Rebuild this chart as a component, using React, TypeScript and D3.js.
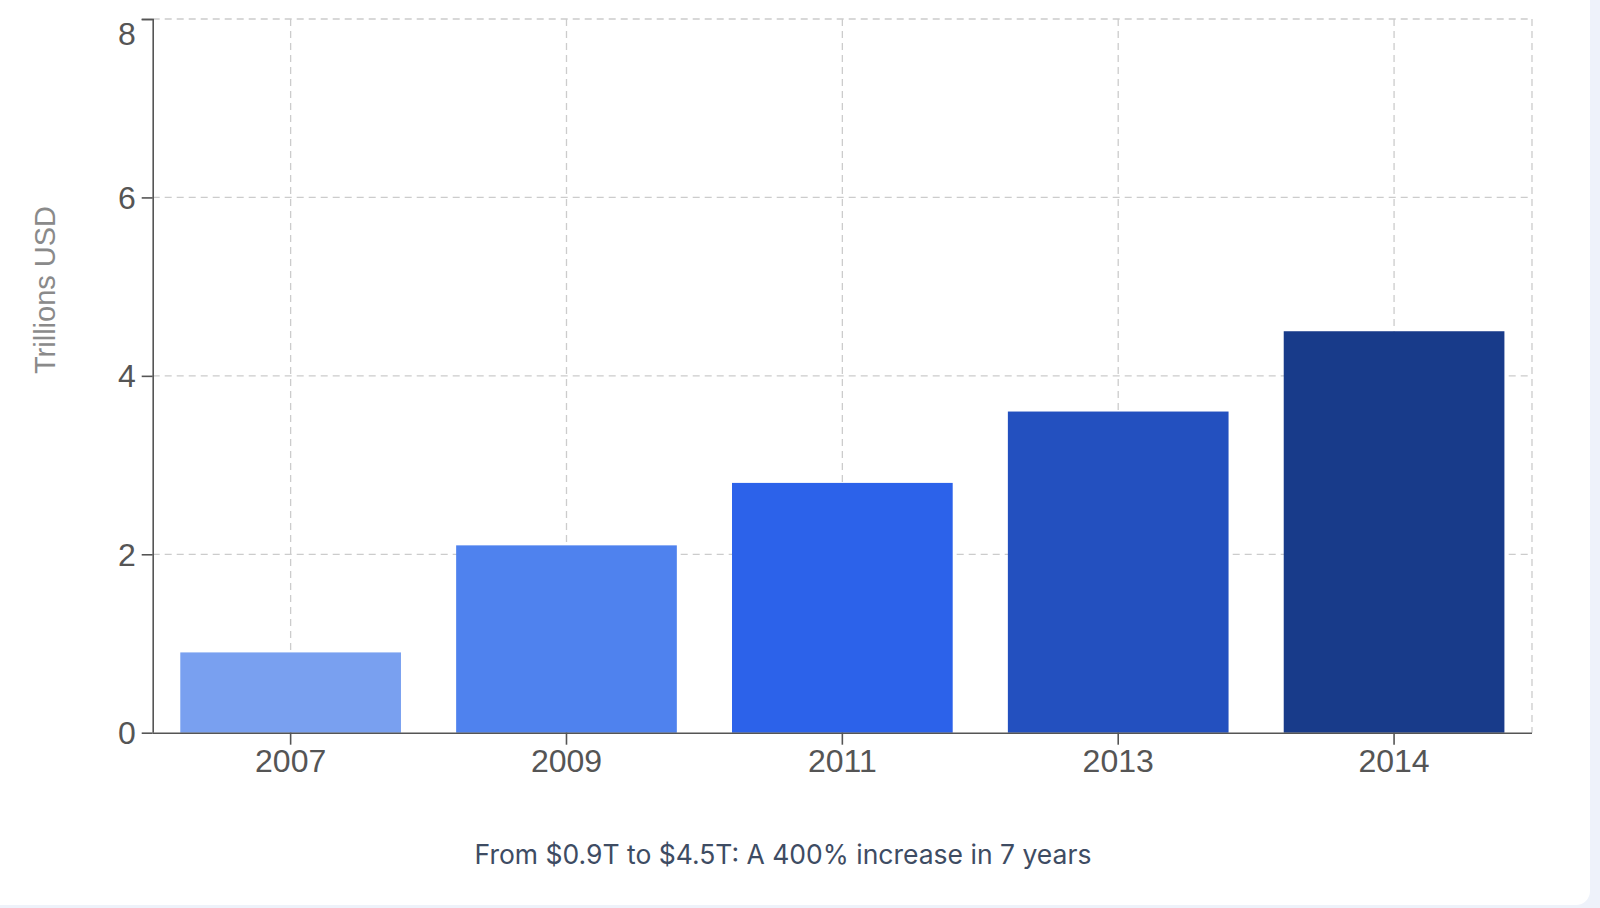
import { useEffect, useRef } from "react";
import * as d3 from "d3";

const years = ["2007", "2009", "2011", "2013", "2014"];
const values = [0.9, 2.1, 2.8, 3.6, 4.5];
const barColors = ["#79a0f0", "#4f82ee", "#2c62ea", "#2350bf", "#183b8a"];
const yTicks = [0, 2, 4, 6, 8];
const yTitle = "Trillions USD";
const caption = "From $0.9T to $4.5T: A 400% increase in 7 years";

export default function App() {
  const svgRef = useRef<SVGSVGElement>(null);

  useEffect(() => {
    if (!svgRef.current) return;

    const svg = d3.select(svgRef.current);
    const W = 1600;
    const H = 908;
    const margin = { top: 19, right: 68, bottom: 175.3, left: 152.7 };
    const width = W - margin.left - margin.right;
    const height = H - margin.top - margin.bottom;

    svg.selectAll("*").remove();

    // page background + card
    svg.append("rect").attr("width", W).attr("height", H).attr("fill", "#eef2fa");
    svg
      .append("rect")
      .attr("x", -20)
      .attr("y", -20)
      .attr("width", 1590 + 20)
      .attr("height", 905 + 20)
      .attr("rx", 14)
      .attr("fill", "#ffffff");

    const g = svg
      .append("g")
      .attr("transform", `translate(${margin.left},${margin.top})`);

    // Scales
    const x = d3
      .scaleBand<string>()
      .domain(years)
      .range([0, width])
      .paddingInner(0.2)
      .paddingOuter(0.1);

    const y = d3.scaleLinear().domain([0, 8]).range([height, 0]);

    const gridColor = "#cccccc";
    const dash = "7 5";

    // horizontal grid
    g.selectAll(".h-grid")
      .data(yTicks.filter((d) => d > 0))
      .enter()
      .append("line")
      .attr("x1", 0)
      .attr("x2", width)
      .attr("y1", (d) => y(d))
      .attr("y2", (d) => y(d))
      .attr("stroke", gridColor)
      .attr("stroke-width", 1.3)
      .attr("stroke-dasharray", dash);

    // vertical grid at category centers and right edge
    g.selectAll(".v-grid")
      .data(years)
      .enter()
      .append("line")
      .attr("x1", (d) => (x(d) as number) + x.bandwidth() / 2)
      .attr("x2", (d) => (x(d) as number) + x.bandwidth() / 2)
      .attr("y1", 0)
      .attr("y2", height)
      .attr("stroke", gridColor)
      .attr("stroke-width", 1.3)
      .attr("stroke-dasharray", dash);

    g.append("line")
      .attr("x1", width)
      .attr("x2", width)
      .attr("y1", 0)
      .attr("y2", height)
      .attr("stroke", gridColor)
      .attr("stroke-width", 1.3)
      .attr("stroke-dasharray", dash);

    // Bars
    g.selectAll(".bar")
      .data(values)
      .enter()
      .append("rect")
      .attr("x", (_, i) => x(years[i]) as number)
      .attr("y", (d) => y(d))
      .attr("width", x.bandwidth())
      .attr("height", (d) => height - y(d))
      .attr("fill", (_, i) => barColors[i]);

    const axisColor = "#555555";
    const tickFont = "'Liberation Sans', Arial, sans-serif";

    // Y axis
    const yAxis = g.append("g").call(
      d3
        .axisLeft(y)
        .tickValues(yTicks)
        .tickSize(11)
        .tickPadding(6)
        .tickFormat((d) => String(d))
    );
    yAxis.select(".domain").attr("stroke", axisColor).attr("stroke-width", 1.6);
    yAxis.selectAll(".tick line").attr("stroke", axisColor).attr("stroke-width", 1.6);
    yAxis
      .selectAll(".tick text")
      .attr("fill", axisColor)
      .style("font-family", tickFont)
      .style("font-size", "32px")
      .attr("dy", (d) => ((d as number) === 8 ? "0.8em" : "0.34em"));
    // the axis domain path has an outer tick, redraw flat
    yAxis.select(".domain").attr("d", `M-11,0.5H0.5V${height}`);

    // X axis
    const xAxis = g
      .append("g")
      .attr("transform", `translate(0,${height})`)
      .call(d3.axisBottom(x).tickSize(12).tickPadding(5));
    xAxis.select(".domain").attr("d", `M0,0.5H${width}`).attr("stroke", axisColor).attr("stroke-width", 1.6);
    xAxis.selectAll(".tick line").attr("stroke", axisColor).attr("stroke-width", 1.6);
    xAxis
      .selectAll(".tick text")
      .attr("fill", axisColor)
      .style("font-family", tickFont)
      .style("font-size", "32px");

    // Y title
    svg
      .append("text")
      .attr("transform", `translate(55,290) rotate(-90)`)
      .attr("text-anchor", "middle")
      .attr("fill", "#8a8a8a")
      .style("font-family", tickFont)
      .style("font-size", "29px")
      .text(yTitle);

    // caption
    svg
      .append("text")
      .attr("x", 783)
      .attr("y", 864)
      .attr("text-anchor", "middle")
      .attr("fill", "#3e4c63")
      .style("font-family", "Inter, 'Noto Sans', sans-serif")
      .style("font-size", "26.5px")
      .text(caption);
  }, []);

  return (
    <svg
      ref={svgRef}
      width={1600}
      height={908}
      style={{ position: "absolute", left: 0, top: 0, display: "block" }}
    />
  );
}
